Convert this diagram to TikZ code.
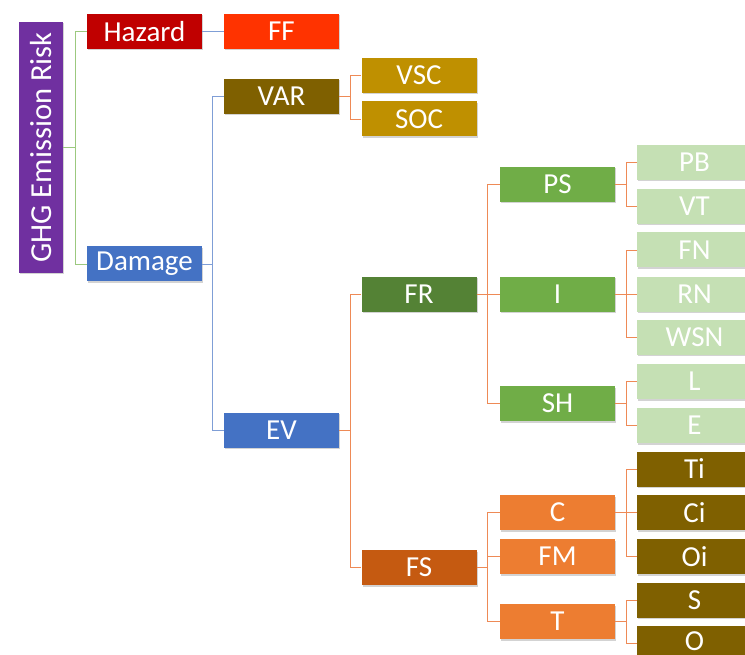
\documentclass[tikz,border=0pt]{standalone}
\usepackage{fontspec}
\setmainfont{Carlito}
\usetikzlibrary{shadows}
\definecolor{cpurple}{HTML}{7030A0}
\definecolor{cred}{HTML}{C00000}
\definecolor{cff}{HTML}{FF3300}
\definecolor{cblue}{HTML}{4472C4}
\definecolor{cbrown}{HTML}{7F6000}
\definecolor{cgold}{HTML}{BF9000}
\definecolor{cdgreen}{HTML}{548235}
\definecolor{cgreen}{HTML}{70AD47}
\definecolor{clgreen}{HTML}{C5E0B4}
\definecolor{cdorange}{HTML}{C55A11}
\definecolor{corange}{HTML}{ED7D31}
\definecolor{lgreen}{HTML}{9CC97F}
\definecolor{lblue}{HTML}{7F9ED6}
\definecolor{lorange}{HTML}{EE8A56}
\tikzset{
  box/.style={rectangle, minimum width=115pt, minimum height=35pt, inner sep=0pt,
    text=white, font=\fontsize{29}{32}\selectfont,
    drop shadow={shadow xshift=1pt, shadow yshift=-1.5pt, opacity=0.35}},
  lk/.style={line width=0.9pt},
}
\begin{document}
\begin{tikzpicture}[x=1pt,y=-1pt]
\useasboundingbox (0,0) rectangle (745,655);
\clip (0,0) rectangle (745,655);
% column 1
\node[box, fill=cpurple, minimum width=251pt, minimum height=44pt, rotate=90,
  font=\fontsize{30.5}{33}\selectfont] (ghg) at (41,147.5) {GHG Emission Risk};
% column 2
\node[box, fill=cred] (haz) at (144.5,31.5) {Hazard};
\node[box, fill=cblue] (dam) at (144.5,264) {Damage};
% column 3
\node[box, fill=cff] (ff) at (281.5,31.5) {FF};
\node[box, fill=cbrown] (var) at (281.5,96.5) {VAR};
\node[box, fill=cblue] (ev) at (281.5,430) {EV};
% column 4
\node[box, fill=cgold] (vsc) at (419,75.5) {VSC};
\node[box, fill=cgold] (soc) at (419,119) {SOC};
\node[box, fill=cdgreen] (fr) at (419,294.5) {FR};
\node[box, fill=cdorange] (fs) at (419,567.5) {FS};
% column 5
\node[box, fill=cgreen] (ps) at (557.5,184.5) {PS};
\node[box, fill=cgreen] (i) at (557.5,294.5) {I};
\node[box, fill=cgreen] (sh) at (557.5,403.5) {SH};
\node[box, fill=corange] (c) at (557.5,512.5) {C};
\node[box, fill=corange] (fm) at (557.5,556.5) {FM};
\node[box, fill=corange] (t) at (557.5,621.5) {T};
% column 6
\node[box, fill=clgreen] (pb) at (694.5,162.5) {PB};
\node[box, fill=clgreen] (vt) at (694.5,206.5) {VT};
\node[box, fill=clgreen] (fn) at (694.5,250) {FN};
\node[box, fill=clgreen] (rn) at (694.5,294.5) {RN};
\node[box, fill=clgreen] (wsn) at (694.5,337.5) {WSN};
\node[box, fill=clgreen] (l) at (694.5,381.5) {L};
\node[box, fill=clgreen] (e) at (694.5,425.5) {E};
\node[box, fill=cbrown] (ti) at (694.5,469) {Ti};
\node[box, fill=cbrown] (ci) at (694.5,512.5) {Ci};
\node[box, fill=cbrown] (oi) at (694.5,556.5) {Oi};
\node[box, fill=cbrown] (s) at (694.5,600) {S};
\node[box, fill=cbrown, text depth=3pt] (o) at (694.5,643) {O};
% connectors
\draw[lk, lgreen] (ghg.south) -- ++(12,0) |- (haz.west);
\draw[lk, lgreen] (ghg.south) -- ++(12,0) |- (dam.west);
\draw[lk, lblue] (haz) -- (ff);
\draw[lk, lblue] (dam.east) -- ++(10.5,0) |- (var.west);
\draw[lk, lblue] (dam.east) -- ++(10.5,0) |- (ev.west);
\foreach \p/\ch in {var/vsc, var/soc, ev/fr, ev/fs, fr/ps, fr/i, fr/sh, fs/c, fs/fm, fs/t,
  ps/pb, ps/vt, i/fn, i/rn, i/wsn, sh/l, sh/e, c/ti, c/ci, c/oi, t/s, t/o}
  \draw[lk, lorange] (\p.east) -- ++(11,0) |- (\ch.west);
\end{tikzpicture}
\end{document}
